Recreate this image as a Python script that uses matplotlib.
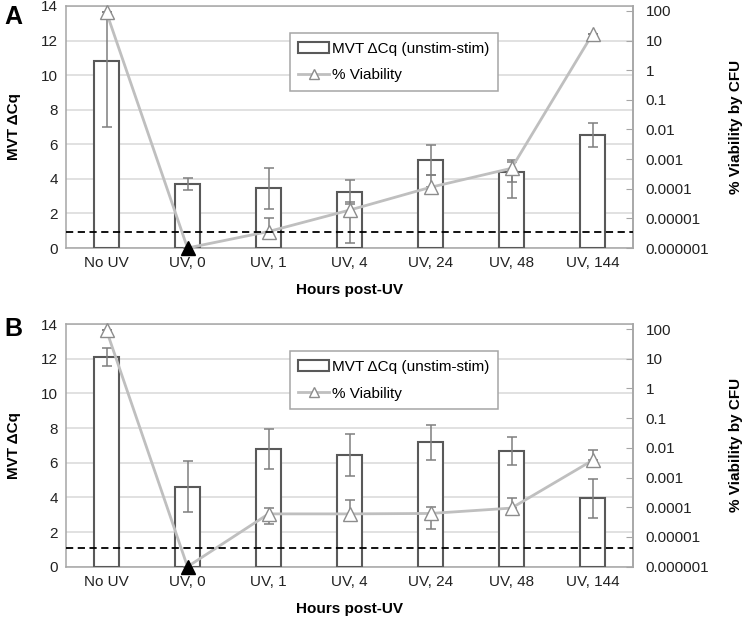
import numpy as np
import matplotlib.pyplot as plt
from matplotlib.lines import Line2D
from matplotlib.patches import Rectangle

plt.rcParams['font.family'] = ['Liberation Sans', 'DejaVu Sans']

categories = ["No UV", "UV, 0", "UV, 1", "UV, 4", "UV, 24", "UV, 48", "UV, 144"]

# Panel A
dcq_a = [10.8, 3.7, 3.45, 3.25, 5.1, 4.4, 6.53]
dcq_err_a = [3.8, 0.33, 1.17, 0.68, 0.86, 0.58, 0.71]
via_a = [90, 1e-6, 3.6e-6, 1.9e-5, 1.12e-4, 4.9e-4, 16.6]
via_err_a = [0, 0, 6.9e-6, 1.75e-5, 1.8e-4, 4.4e-4, 0]
limit_a = 3.5e-6

# Panel B
dcq_b = [12.1, 4.62, 6.8, 6.44, 7.17, 6.69, 3.95]
dcq_err_b = [0.5, 1.45, 1.15, 1.2, 1.0, 0.8, 1.13]
via_b = [90, 1e-6, 6.0e-5, 6.0e-5, 6.2e-5, 9.4e-5, 3.8e-3]
via_err_b = [0, 0, 3.3e-5, 1.2e-4, 4.4e-5, 1.05e-4, 4.5e-3]
limit_b = 4.2e-6

right_ticks = [1e-6, 1e-5, 1e-4, 1e-3, 1e-2, 1e-1, 1, 10, 100]
right_labels = ["0.000001", "0.00001", "0.0001", "0.001", "0.01", "0.1", "1", "10", "100"]
below_detection = 1  # index of the point plotted as filled (below detection)

fig = plt.figure(figsize=(7.5, 6.18), dpi=100)

grey_edge = '#595959'
err_col = '#7f7f7f'
line_col = '#bfbfbf'
grid_col = '#d9d9d9'


def panel(rect, dcq, dcq_err, via, via_err, limit, letter, letter_y):
    ax = fig.add_axes(rect)
    x = np.arange(len(categories))
    ax.bar(x, dcq, width=0.32, facecolor='white', edgecolor=grey_edge, linewidth=1.5, zorder=3)
    ax.errorbar(x, dcq, yerr=dcq_err, fmt='none', ecolor=err_col, elinewidth=1.1,
                capsize=3.5, capthick=1.1, zorder=4)
    ax.set_xlim(-0.5, 6.5)
    ax.set_ylim(0, 14)
    ax.set_yticks(range(0, 15, 2))
    ax.yaxis.grid(True, color=grid_col, linewidth=1.1, zorder=0)
    ax.set_axisbelow(True)
    ax.set_xticks(x)
    ax.set_xticklabels(categories)
    ax.tick_params(axis='both', length=0, labelsize=11, colors='#222222', pad=6)
    for s in ax.spines.values():
        s.set_color('#a6a6a6')
        s.set_linewidth(1.1)
    ax.set_ylabel("MVT ΔCq", fontsize=11, fontweight='bold', labelpad=14)
    ax.set_xlabel("Hours post-UV", fontsize=11, fontweight='bold', labelpad=9)

    ax2 = ax.twinx()
    ax2.set_yscale('log')
    ax2.set_ylim(1e-6, 10 ** (-6 + 8 * 242 / 237))
    ax2.set_yticks(right_ticks)
    ax2.set_yticklabels(right_labels)
    ax2.yaxis.set_minor_locator(plt.NullLocator())
    ax2.tick_params(axis='y', direction='in', length=5, color='#a6a6a6', labelsize=11,
                    colors='#222222', pad=9)
    for s in ax2.spines.values():
        s.set_visible(False)
    ax2.spines['right'].set_visible(True)
    ax2.spines['right'].set_color('#a6a6a6')
    ax2.spines['right'].set_linewidth(1.1)
    ax2.set_ylabel("% Viability by CFU", fontsize=11, fontweight='bold', labelpad=14)

    via = np.array(via)
    via_err = np.array(via_err)
    lower = np.where(via - via_err > 0, via_err, 0)
    ax2.errorbar(x, via, yerr=[lower, via_err], fmt='none', ecolor=err_col, elinewidth=1.1,
                 capsize=3.5, capthick=1.1, zorder=4)
    ax2.plot(x, via, color=line_col, linewidth=2, zorder=5, clip_on=False)
    open_idx = [i for i in range(len(via)) if i != below_detection]
    ax2.plot(x[open_idx], via[open_idx], linestyle='none', marker='^', markersize=9.5,
             markerfacecolor='white', markeredgecolor='#8c8c8c', markeredgewidth=1.0,
             zorder=6, clip_on=False)
    ax2.plot(x[below_detection], via[below_detection], linestyle='none', marker='^',
             markersize=10, color='black', zorder=7, clip_on=False)
    ax2.axhline(limit, color='black', linestyle=(0, (4, 2.5)), linewidth=1.3, zorder=6)

    handles = [Rectangle((0, 0), 1, 1, facecolor='white', edgecolor=grey_edge, linewidth=1.5),
               Line2D([], [], color=line_col, linewidth=2, marker='^', markersize=7,
                      markerfacecolor='white', markeredgecolor='#8c8c8c')]
    leg = ax2.legend(handles, ["MVT ΔCq (unstim-stim)", "% Viability"], loc='upper left',
                     bbox_to_anchor=(0.395, 0.888), borderaxespad=0, fontsize=11,
                     fancybox=False, edgecolor='#a6a6a6', framealpha=1, borderpad=0.55,
                     labelspacing=0.85, handlelength=2.0, handletextpad=0.2)
    leg.get_frame().set_linewidth(1.1)
    fig.text(0.006, letter_y, letter, fontsize=18, fontweight='bold', va='center', ha='left')
    return ax, ax2


panel([0.088, 0.5987, 0.756, 0.3916], dcq_a, dcq_err_a, via_a, via_err_a, limit_a, "A", 0.972)
panel([0.088, 0.083, 0.756, 0.3927], dcq_b, dcq_err_b, via_b, via_err_b, limit_b, "B", 0.468)

fig.savefig("out.png", dpi=100)
